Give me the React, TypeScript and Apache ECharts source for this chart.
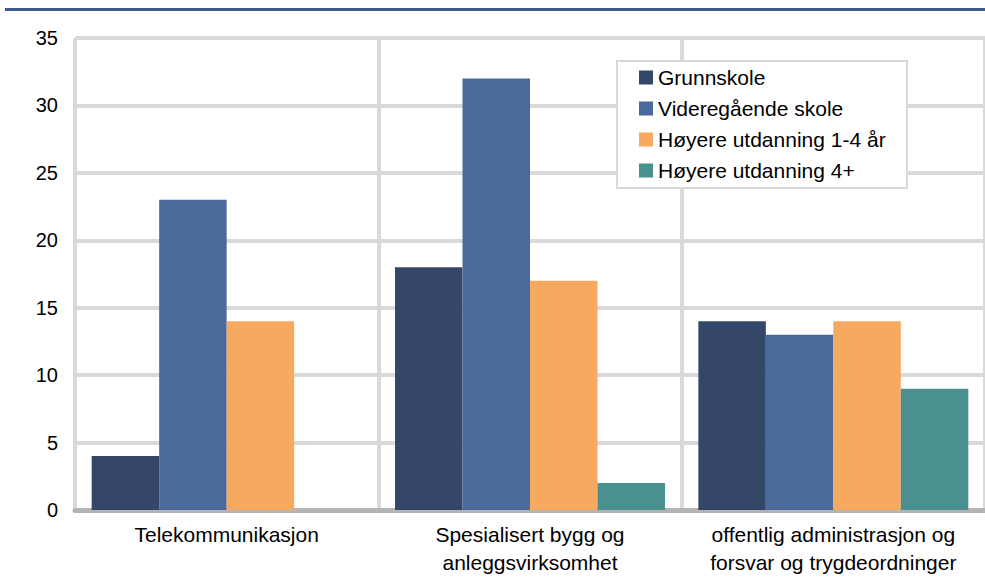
import React, { useEffect, useRef } from "react";
import * as echarts from "echarts";

const categories = [
  "Telekommunikasjon",
  "Spesialisert bygg og\nanleggsvirksomhet",
  "offentlig administrasjon og\nforsvar og trygdeordninger",
];
const seriesNames = [
  "Grunnskole",
  "Videregående skole",
  "Høyere utdanning 1-4 år",
  "Høyere utdanning 4+",
];
const grunnskole = [4, 18, 14];
const videregaende = [23, 32, 13];
const hoyere14 = [14, 17, 14];
const hoyere4pluss = [0, 2, 9];
const colors = ["#344768", "#4a6a9c", "#f6a95f", "#4a908f"];
const yTicks = { min: 0, max: 35, interval: 5 };

const FONT = "'Liberation Sans', Arial, sans-serif";

export default function App() {
  const ref = useRef<HTMLDivElement>(null);
  useEffect(() => {
    if (!ref.current) return;
    const chart = echarts.init(ref.current, undefined, { renderer: "svg" });
    const values = [grunnskole, videregaende, hoyere14, hoyere4pluss];
    chart.setOption({
      animation: false,
      textStyle: { fontFamily: FONT },
      grid: { left: 75, right: 0, top: 38, bottom: 76 },
      graphic: [
        {
          type: "rect",
          shape: { x: 5, y: 8, width: 980, height: 3 },
          style: { fill: "#3d5a89" },
          z: 3,
        },
        {
          type: "rect",
          shape: { x: 617, y: 61, width: 290, height: 127 },
          style: { fill: "#ffffff", stroke: "#d9d9d9", lineWidth: 2 },
          z: 3,
        },
      ],
      legend: {
        orient: "vertical",
        left: 617,
        top: 61,
        padding: [6, 19, 11, 22],
        itemWidth: 14,
        itemHeight: 14,
        itemGap: 10,
        icon: "rect",
        z: 4,
        data: seriesNames,
        textStyle: { fontFamily: FONT, fontSize: 21, color: "#000", lineHeight: 20 },
      },
      xAxis: {
        type: "category",
        data: categories,
        axisTick: { show: false, interval: 0 },
        axisLine: { show: true, lineStyle: { color: "#b4b4b4", width: 5 } },
        splitLine: { show: true, interval: 0, lineStyle: { color: "#d9d9d9", width: 4 } },
        axisLabel: {
          interval: 0,
          hideOverlap: false,
          fontFamily: FONT,
          fontSize: 21,
          color: "#000",
          lineHeight: 28,
          margin: 10,
        },
      },
      yAxis: {
        type: "value",
        min: yTicks.min,
        max: yTicks.max,
        interval: yTicks.interval,
        axisLine: { show: false },
        axisTick: { show: false },
        splitLine: { show: true, lineStyle: { color: "#d9d9d9", width: 4 } },
        axisLabel: { fontFamily: FONT, fontSize: 20, color: "#000", margin: 17 },
      },
      series: seriesNames.map((name, i) => ({
        name,
        type: "bar",
        data: values[i],
        barGap: "0%",
        barCategoryGap: "11%",
        itemStyle: { color: colors[i] },
      })),
    });
    return () => chart.dispose();
  }, []);
  return (
    <div
      ref={ref}
      style={{ position: "fixed", left: 0, top: 0, width: 985, height: 586, background: "#fff" }}
    />
  );
}
